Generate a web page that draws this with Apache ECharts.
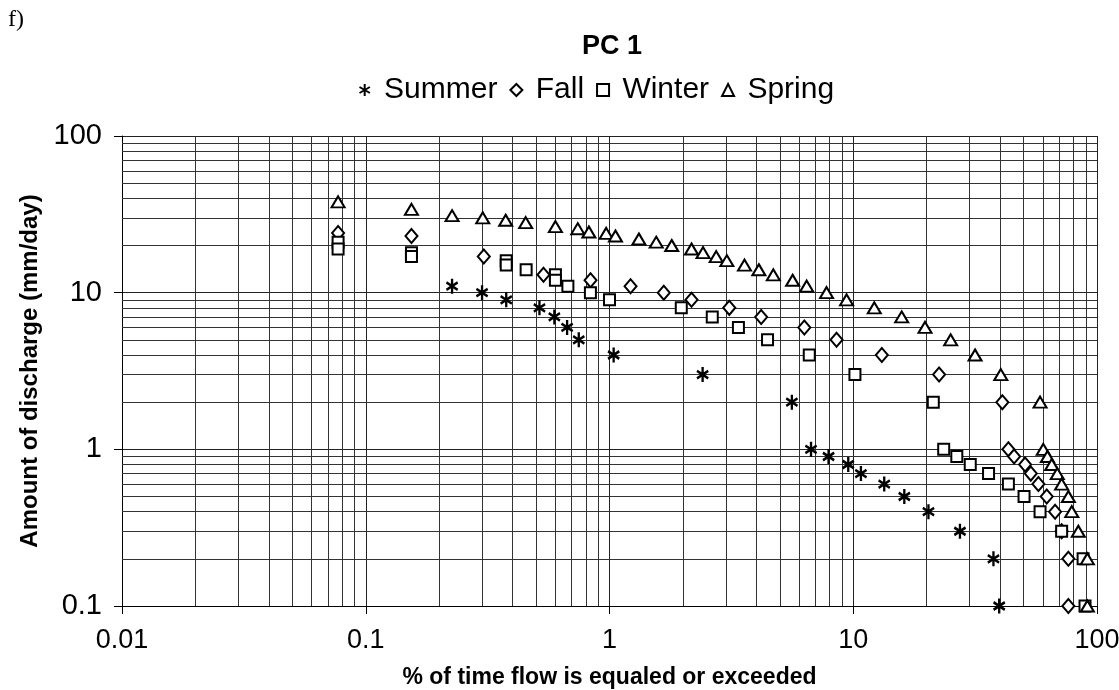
<!DOCTYPE html>
<html>
<head>
<meta charset="utf-8">
<script src="https://cdn.jsdelivr.net/npm/echarts@6/dist/echarts.min.js"></script>
<style>
html, body {margin:0; padding:0; background:#fff;}
#chart {width:1119px; height:690px;}
</style>
</head>
<body>
<div id="chart"></div>
<script>
// % of time flow is equaled or exceeded / amount of discharge (mm/day)
var pctSummer = [0.077, 0.226, 0.300, 0.377, 0.516, 0.594, 0.670, 0.748, 1.04, 2.41, 5.6, 6.71, 7.92, 9.54, 10.75, 13.4, 16.2, 20.35, 27.4, 37.6, 39.7];
var flowSummer = [20, 11, 10, 9, 8, 7, 6, 5, 4, 3, 2, 1, 0.9, 0.8, 0.7, 0.6, 0.5, 0.4, 0.3, 0.2, 0.1];

var pctFall = [0.077, 0.154, 0.305, 0.536, 0.836, 1.22, 1.67, 2.17, 3.10, 4.19, 6.3, 8.54, 13.1, 22.5, 40.9, 43.3, 45.7, 50.7, 53.5, 57.5, 62.2, 67.3, 71.6, 76.3, 76.3];
var flowFall = [24, 23, 17, 13, 12, 11, 10, 9, 8, 7, 6, 5, 4, 3, 2, 1, 0.9, 0.8, 0.7, 0.6, 0.5, 0.4, 0.3, 0.2, 0.1];

var pctWinter = [0.077, 0.077, 0.154, 0.154, 0.377, 0.377, 0.455, 0.60, 0.60, 0.675, 0.835, 1.0, 1.97, 2.64, 3.38, 4.45, 6.6, 10.16, 21.3, 23.5, 26.6, 30.2, 35.9, 43.3, 50.2, 58.4, 71.6, 87.7, 89.3];
var flowWinter = [21, 19, 18, 17, 16, 15, 14, 13, 12, 11, 10, 9, 8, 7, 6, 5, 4, 3, 2, 1, 0.9, 0.8, 0.7, 0.6, 0.5, 0.4, 0.3, 0.2, 0.1];

var pctSpring = [0.077, 0.154, 0.226, 0.302, 0.375, 0.453, 0.60, 0.741, 0.823, 0.969, 1.058, 1.32, 1.555, 1.80, 2.17, 2.42, 2.74, 3.03, 3.58, 4.10, 4.70, 5.64, 6.44, 7.77, 9.39, 12.2, 15.8, 19.7, 25.1, 31.6, 40.3, 58.4, 60.2, 62.6, 65.2, 68.7, 71.6, 76.3, 78.8, 83.8, 91.3, 91.3];
var flowSpring = [38, 34, 31, 30, 29, 28, 26.4, 25.6, 24.4, 23.9, 23, 22, 21, 20, 19, 18, 17, 16, 15, 14, 13, 12, 11, 10, 9, 8, 7, 6, 5, 4, 3, 2, 1, 0.9, 0.8, 0.7, 0.6, 0.5, 0.4, 0.3, 0.2, 0.1];

var seasons = ['Summer', 'Fall', 'Winter', 'Spring'];

var FONT = '"Liberation Sans", Arial, sans-serif';
var ASTERISK = 'path://M5 0 L5 10 M0.67 2.5 L9.33 7.5 M0.67 7.5 L9.33 2.5';

var pairs = function (xs, ys) {
    var out = [];
    for (var i = 0; i < xs.length; i++) {
        out.push([xs[i], ys[i]]);
    }
    return out;
};

// minor log gridlines at 2..9 of every decade
var minorLines = function () {
    var lines = [];
    var d, k;
    for (d = -2; d < 2; d++) {
        for (k = 2; k <= 9; k++) {
            lines.push({xAxis: +(k * Math.pow(10, d)).toPrecision(3)});
        }
    }
    for (d = -1; d < 2; d++) {
        for (k = 2; k <= 9; k++) {
            lines.push({yAxis: +(k * Math.pow(10, d)).toPrecision(3)});
        }
    }
    return lines;
};

var markerStyle = {color: '#fff', borderColor: '#000', borderWidth: 2, opacity: 1};

var option = {
    animation: false,
    backgroundColor: '#fff',
    title: {
        text: 'PC 1',
        left: 577,
        top: 28,
        textStyle: {fontFamily: FONT, fontSize: 27, fontWeight: 'bold', color: '#000'}
    },
    graphic: [{
        type: 'text',
        left: 8,
        top: 8,
        style: {text: 'f)', font: '24px "Liberation Serif", serif', fill: '#000'}
    }],
    legend: {
        data: seasons,
        top: 70,
        left: 352,
        itemWidth: 12,
        itemHeight: 12,
        itemGap: 12,
        formatter: function (name) { return ' ' + name; },
        textStyle: {fontFamily: FONT, fontSize: 30, color: '#000'}
    },
    grid: {left: 122, right: 22, top: 136, bottom: 84, outerBoundsMode: 'none', containLabel: false},
    xAxis: {
        type: 'log',
        logBase: 10,
        min: 0.01,
        max: 100,
        name: '% of time flow is equaled or exceeded',
        nameLocation: 'middle',
        nameGap: 60,
        nameTextStyle: {fontFamily: FONT, fontSize: 23, fontWeight: 'bold', color: '#000'},
        axisLine: {lineStyle: {color: '#000', width: 1}},
        axisTick: {show: true, length: 8, lineStyle: {color: '#000'}},
        axisLabel: {fontFamily: FONT, fontSize: 27, color: '#000', margin: 21},
        splitLine: {show: true, lineStyle: {color: '#222', width: 1}}
    },
    yAxis: {
        type: 'log',
        logBase: 10,
        min: 0.1,
        max: 100,
        name: 'Amount of discharge (mm/day)',
        nameLocation: 'middle',
        nameRotate: 90,
        nameGap: 80,
        nameTextStyle: {fontFamily: FONT, fontSize: 24, fontWeight: 'bold', color: '#000'},
        axisLine: {show: true, lineStyle: {color: '#000', width: 1}},
        axisTick: {show: true, length: 8, lineStyle: {color: '#000'}},
        axisLabel: {fontFamily: FONT, fontSize: 29, color: '#000', margin: 20},
        splitLine: {show: true, lineStyle: {color: '#222', width: 1}}
    },
    series: [
        {
            name: 'grid',
            type: 'scatter',
            data: [],
            silent: true,
            z: 1,
            markLine: {
                silent: true,
                symbol: ['none', 'none'],
                label: {show: false},
                lineStyle: {color: '#333', width: 1, type: 'solid'},
                data: minorLines()
            }
        },
        {
            name: 'Summer',
            type: 'scatter',
            symbol: ASTERISK,
            symbolSize: [13, 15],
            symbolKeepAspect: true,
            itemStyle: {color: 'none', borderColor: '#000', borderWidth: 2.5, opacity: 1},
            data: pairs(pctSummer, flowSummer),
            z: 5
        },
        {
            name: 'Fall',
            type: 'scatter',
            symbol: 'diamond',
            symbolSize: [12, 14],
            itemStyle: markerStyle,
            data: pairs(pctFall, flowFall),
            z: 5
        },
        {
            name: 'Winter',
            type: 'scatter',
            symbol: 'rect',
            symbolSize: 11,
            itemStyle: markerStyle,
            data: pairs(pctWinter, flowWinter),
            z: 5
        },
        {
            name: 'Spring',
            type: 'scatter',
            symbol: 'triangle',
            symbolSize: [13, 11],
            itemStyle: markerStyle,
            data: pairs(pctSpring, flowSpring),
            z: 5
        }
    ]
};

var chart = echarts.init(document.getElementById('chart'));
chart.setOption(option);
</script>
</body>
</html>
